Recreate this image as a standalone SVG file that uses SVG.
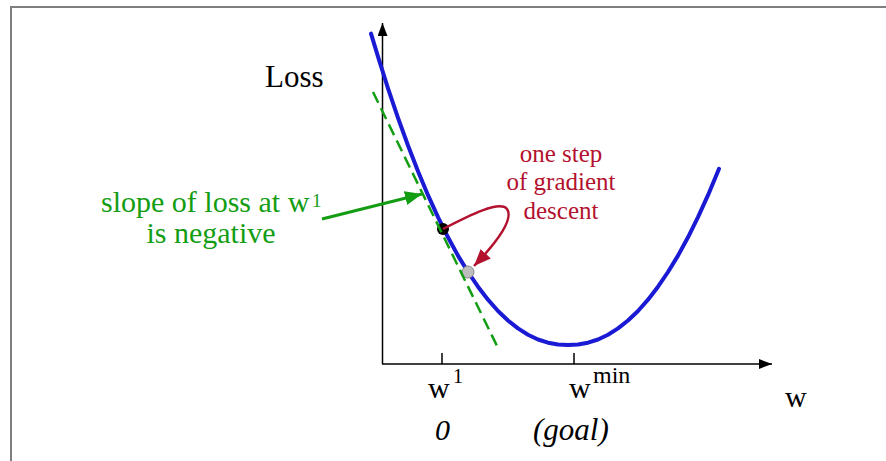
<svg xmlns="http://www.w3.org/2000/svg" width="886" height="461" viewBox="0 0 886 461">
<style>
text{font-family:"Liberation Serif","Times New Roman",serif}
.lbl{font-size:30px;fill:#000}
.sup{font-size:20px;fill:#000}
.grn{fill:#139d13;font-size:30px}
.red{fill:#b3122e;font-size:25px;text-anchor:middle}
.it{font-style:italic}
</style>
<defs>
<marker id="ahBlack" markerUnits="userSpaceOnUse" markerWidth="14" markerHeight="10" refX="13" refY="5" orient="auto"><path d="M0,0 L13,5 L0,10 Z" fill="#000"/></marker>
<marker id="ahGreen" markerUnits="userSpaceOnUse" markerWidth="18" markerHeight="14" refX="17" refY="7" orient="auto"><path d="M0,0 L17,7 L0,14 Z" fill="#139d13"/></marker>
<marker id="ahRed" markerUnits="userSpaceOnUse" markerWidth="18" markerHeight="14" refX="17" refY="7" orient="auto"><path d="M0,0 L17,7 L0,14 Z" fill="#b3122e"/></marker>
</defs>
<rect width="886" height="461" fill="#fff"/>
<path d="M11,461 V7 H886" fill="none" stroke="#7f7f7f" stroke-width="2"/>
<g id="axes">
<line x1="382.5" y1="364" x2="382.5" y2="23" stroke="#000" stroke-width="1.5" marker-end="url(#ahBlack)"/>
<line x1="382" y1="364" x2="772" y2="364" stroke="#000" stroke-width="1.5" marker-end="url(#ahBlack)"/>
<line x1="442" y1="353" x2="442" y2="364" stroke="#000" stroke-width="1.5"/>
<line x1="574" y1="353" x2="574" y2="364" stroke="#000" stroke-width="1.5"/>
</g>
<g id="loss-curve">
<polyline fill="none" stroke="#1a1ad4" stroke-width="4" stroke-linecap="round" stroke-linejoin="round" points="371,33.6 378,56.6 388,88.3 398,117.9 408,145.5 418,171.2 428,195.2 438,217.1 448,237.3 458,255.6 468,272 478,286.7 488,299.7 498,311 508,320.5 518,328.4 528,334.7 538,339.5 548,342.7 558,344.5 568,345 578,344.5 588,342.7 598,339.5 608,334.7 618,328.4 628,320.5 638,311 648,299.7 658,286.7 668,272 678,255.6 688,237.3 698,217.1 708,195.2 718,171.2 719,168.8"/>
</g>
<g id="point-w1"><circle cx="443" cy="229" r="6" fill="#000"/></g>
<g id="point-next"><circle cx="468" cy="272" r="6" fill="#bdbdbd" stroke="#8a8a8a" stroke-width="1"/></g>
<g id="connectors">
<line id="tangent" x1="373" y1="92" x2="498" y2="348" stroke="#139d13" stroke-width="2.5" stroke-dasharray="12 6"/>
<line id="slope-arrow" x1="322" y1="219" x2="422" y2="194" stroke="#139d13" stroke-width="3" marker-end="url(#ahGreen)"/>
<path id="step-arrow" d="M443,229 C470,215 500,200 507,209 C514,219 497,242 474,266" fill="none" stroke="#b3122e" stroke-width="2.5" marker-end="url(#ahRed)"/>
</g>
<g id="labels">
<text class="lbl" x="265" y="87" style="font-size:31px">Loss</text>
<text class="grn" x="101" y="212">slope of loss at w</text>
<text class="grn" x="312" y="207" style="font-size:19px">1</text>
<text class="grn" x="211" y="243" text-anchor="middle">is negative</text>
<text class="red" x="561" y="162">one step</text>
<text class="red" x="561" y="190">of gradient</text>
<text class="red" x="561" y="219">descent</text>
<text class="lbl" x="428" y="398">w</text>
<text class="sup" x="453" y="383">1</text>
<text class="lbl" x="569" y="398">w</text>
<text class="sup" x="593" y="383" style="font-size:24px">min</text>
<text class="lbl" x="785" y="407">w</text>
<text class="lbl it" x="435" y="440">0</text>
<text class="lbl it" x="533" y="440" style="font-size:31px">(goal)</text>
</g>
</svg>
